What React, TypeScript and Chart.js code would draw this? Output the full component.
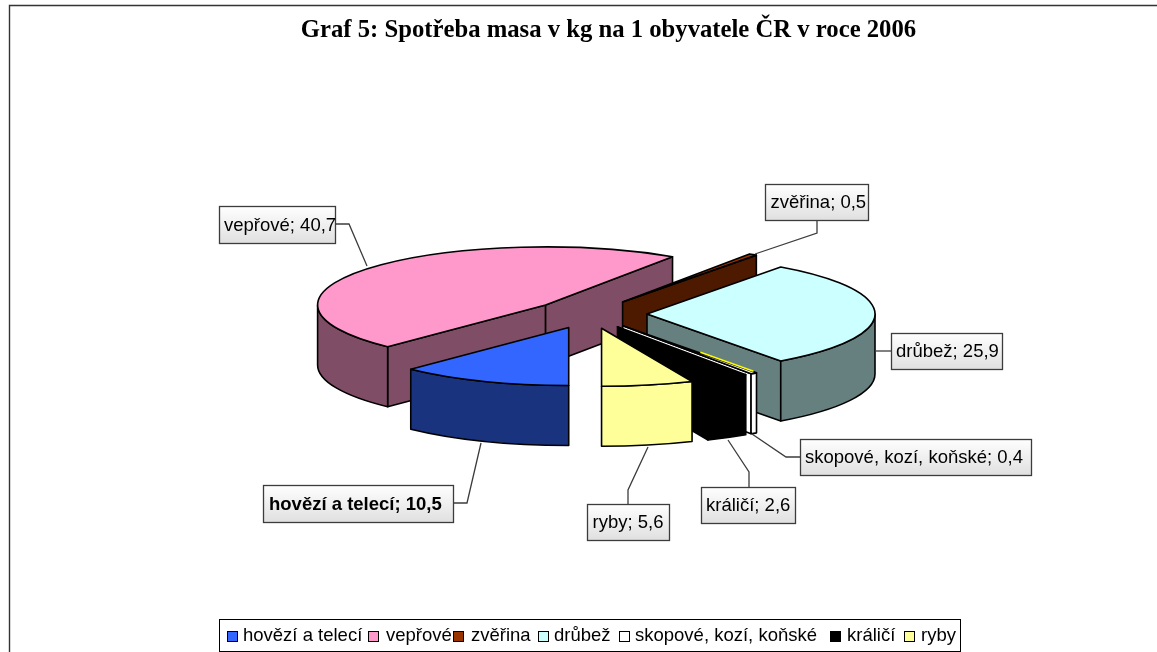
import React, { useEffect, useRef } from "react";
import { Chart, registerables } from "chart.js";

Chart.register(...registerables);

const titleText = "Graf 5: Spotřeba masa v kg na 1 obyvatele ČR v roce 2006";
const categories = ["hovězí a telecí", "vepřové", "zvěřina", "drůbež", "skopové, kozí, koňské", "králičí", "ryby"];
const values = [10.5, 40.7, 0.5, 25.9, 0.4, 2.6, 5.6];
const topColors = ["#3366FF", "#FF99CC", "#993300", "#CCFFFF", "#FFFFFF", "#000000", "#FFFF99"];
const wallColors = ["#1A337F", "#804D66", "#4D1A00", "#668080", "#FFFFFF", "#000000", "#FFFF99"];
const drawOrder = [1, 2, 3, 4, 5, 6, 0];

const pie = { x: 590, y: 314, radius: 228, squash: 0.2544, depth: 60, explode: 57 };
const labelFont = '18.5px "Liberation Sans"';
const labelFontBold = 'bold 18.5px "Liberation Sans"';

const labelBoxes = [
  { x: 263, y: 485, w: 190, h: 37, tx: 269, bold: true, leader: [[453, 503], [467, 503], [481, 443]] },
  { x: 219, y: 206, w: 116, h: 37, tx: 224, leader: [[335, 224], [349, 224], [367, 266]] },
  { x: 765, y: 184, w: 103, h: 36, tx: 770.5, leader: [[817, 220], [817, 233], [755, 254]] },
  { x: 891, y: 333, w: 111, h: 36, tx: 896, leader: [[891, 351], [875, 351]] },
  { x: 800, y: 439, w: 231, h: 36, tx: 805, leader: [[800, 457], [786, 457], [752, 434]] },
  { x: 701, y: 487, w: 94, h: 36, tx: 706, leader: [[749, 487], [749, 472], [728, 440]] },
  { x: 587, y: 504, w: 82, h: 36, tx: 592.5, leader: [[628, 504], [628, 490], [648, 447]] },
];
const legendBox = { x: 219, y: 619, w: 741, h: 32 };
const legendSwatchX = [227, 368, 453, 538, 619, 830, 904];
const legendTextX = [243, 386, 471, 554, 635, 847, 921];

const pie3d = {
  id: "pie3d",
  beforeDraw(chart: any) {
    const c = chart.ctx;
    c.save();
    c.fillStyle = "#FFFFFF";
    c.fillRect(0, 0, chart.width, chart.height);
    c.strokeStyle = "#333333";
    c.lineWidth = 1.4;
    c.beginPath();
    c.moveTo(1157, 5.5);
    c.lineTo(9.5, 5.5);
    c.lineTo(9.5, 652);
    c.stroke();
    c.restore();
  },
  beforeDatasetDraw(chart: any) {
    const c = chart.ctx;
    const arcs = chart.getDatasetMeta(0).data;
    const k = pie.squash;
    const d = pie.depth;
    for (const i of drawOrder) {
      const arc = arcs[i];
      const a0 = arc.startAngle;
      const a1 = arc.endAngle;
      const mid = (a0 + a1) / 2;
      const r = arc.outerRadius;
      const cx = pie.x + Math.cos(mid) * pie.explode;
      const cy = pie.y + Math.sin(mid) * pie.explode * k;
      const px = (a: number) => cx + r * Math.cos(a);
      const py = (a: number) => cy + r * k * Math.sin(a);
      c.save();
      c.lineWidth = 1.6;
      c.lineJoin = "round";
      c.strokeStyle = "#000000";
      c.fillStyle = wallColors[i];
      const radial = (a: number) => {
        c.beginPath();
        c.moveTo(cx, cy);
        c.lineTo(px(a), py(a));
        c.lineTo(px(a), py(a) + d);
        c.lineTo(cx, cy + d);
        c.closePath();
        c.fill();
        c.stroke();
      };
      if (-Math.cos(a0) > 0) radial(a0);
      if (Math.cos(a1) > 0) radial(a1);
      for (const n of [0, 1]) {
        const lo = Math.max(a0, 2 * Math.PI * n);
        const hi = Math.min(a1, 2 * Math.PI * n + Math.PI);
        if (lo < hi) {
          c.beginPath();
          c.ellipse(cx, cy, r, r * k, 0, lo, hi);
          c.ellipse(cx, cy + d, r, r * k, 0, hi, lo, true);
          c.closePath();
          c.fill();
          c.stroke();
        }
      }
      c.save();
      c.translate(cx, cy);
      c.scale(1, k);
      c.translate(-arc.x, -arc.y);
      arc.draw(c, chart.chartArea);
      c.restore();
      c.beginPath();
      c.moveTo(cx, cy);
      c.ellipse(cx, cy, r, r * k, 0, a0, a1);
      c.closePath();
      c.stroke();
      if (i === 4) {
        c.strokeStyle = "#FFFF00";
        c.lineWidth = 1.6;
        c.beginPath();
        c.moveTo(cx + r * 0.58 * Math.cos(a0), cy + r * 0.58 * k * Math.sin(a0) - 0.8);
        c.lineTo(px(a0) - 3, py(a0) - 1.6);
        c.stroke();
      }
      c.restore();
    }
    return false;
  },
  afterDatasetsDraw(chart: any) {
    const c = chart.ctx;
    c.save();
    labelBoxes.forEach((b, i) => {
      c.strokeStyle = "#3C3C3C";
      c.lineWidth = 1.3;
      c.beginPath();
      b.leader.forEach((p, j) => (j ? c.lineTo(p[0], p[1]) : c.moveTo(p[0], p[1])));
      c.stroke();
      const g = c.createLinearGradient(0, b.y, 0, b.y + b.h);
      g.addColorStop(0, "#FFFFFF");
      g.addColorStop(1, "#E0E0E0");
      c.fillStyle = g;
      c.fillRect(b.x, b.y, b.w, b.h);
      c.strokeRect(b.x + 0.5, b.y + 0.5, b.w, b.h);
      c.fillStyle = "#000000";
      c.font = b.bold ? labelFontBold : labelFont;
      c.textAlign = "left";
      c.textBaseline = "middle";
      const text = `${categories[i]}; ${String(values[i]).replace(".", ",")}`;
      c.fillText(text, b.tx, b.y + b.h / 2 + 1);
    });
    c.strokeStyle = "#000000";
    c.lineWidth = 1;
    c.fillStyle = "#FFFFFF";
    c.fillRect(legendBox.x, legendBox.y, legendBox.w, legendBox.h);
    c.strokeRect(legendBox.x + 0.5, legendBox.y + 0.5, legendBox.w, legendBox.h);
    categories.forEach((name, i) => {
      c.fillStyle = topColors[i];
      c.fillRect(legendSwatchX[i], legendBox.y + 12, 10, 10);
      c.strokeStyle = "#000000";
      c.strokeRect(legendSwatchX[i] + 0.5, legendBox.y + 12.5, 10, 10);
      c.fillStyle = "#000000";
      c.font = labelFont;
      c.textAlign = "left";
      c.textBaseline = "middle";
      c.fillText(name, legendTextX[i], legendBox.y + 17);
    });
    c.restore();
  },
};

export default function App() {
  const ref = useRef<HTMLCanvasElement>(null);
  useEffect(() => {
    document.body.style.margin = "0";
    document.body.style.background = "#FFFFFF";
    const chart = new Chart(ref.current as HTMLCanvasElement, {
      type: "pie",
      data: {
        labels: categories,
        datasets: [
          {
            data: values,
            backgroundColor: topColors,
            borderWidth: 0,
            offset: 0,
            radius: pie.radius,
            clip: false,
          } as any,
        ],
      },
      options: {
        responsive: false,
        animation: false,
        rotation: 180,
        layout: { padding: { left: 60 } },
        plugins: {
          legend: { display: false },
          tooltip: { enabled: false },
          title: {
            display: true,
            text: titleText,
            fullSize: false,
            color: "#000000",
            font: { family: '"Liberation Serif"', size: 24.7, weight: "bold" },
            padding: { top: 16, bottom: 10 },
          },
        },
      } as any,
      plugins: [pie3d as any],
    });
    return () => chart.destroy();
  }, []);
  return <canvas ref={ref} width={1157} height={652} style={{ display: "block", width: 1157, height: 652 }} />;
}
